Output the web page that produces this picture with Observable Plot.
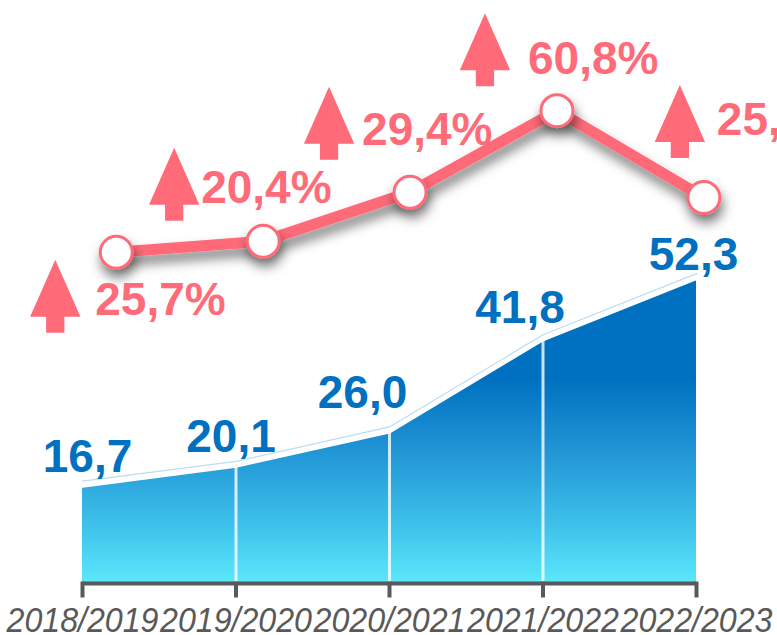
<!DOCTYPE html>
<html><head><meta charset="utf-8">
<script src="https://cdn.jsdelivr.net/npm/d3@7"></script>
<script src="https://cdn.jsdelivr.net/npm/@observablehq/plot@0.6"></script>
<style>
html,body{margin:0;padding:0;background:#fff;overflow:hidden;}
svg{display:block;}
</style></head><body><div id="chart"></div>
<script>
// ---- data ----
const seasons = ["2018/2019", "2019/2020", "2020/2021", "2021/2022", "2022/2023"];
const volumes = [16.7, 20.1, 26.0, 41.8, 52.3];
const growthPct = [25.7, 20.4, 29.4, 60.8, 25.3];
const lineLevel = [56.8, 58.7, 67.1, 81.1, 66.2];

// ---- layout / style config ----
const PINK = "#ff6b79";
const BLUE = "#0070c0";
const AXIS = "#595959";
const FONT = "'Liberation Sans', Arial, Helvetica, sans-serif";
const lineXShift = i => 0.22 + i * 0.957;
const pctOffsets = [[-21, 48], [-62, -53], [-48, -62], [-29, -51], [13, -77]];
const arrowOffsets = [[-40, -4], [-27, -4], [-33, -7], [-43, -10], [-37, 1]];
const valOffsets = [[5, -29], [-5, -29], [-27, -39], [-23, -32], [-3, -23]];

const fmt = v => v.toFixed(1).replace(".", ",");
const volData = volumes.map((v, i) => ({i, v, label: fmt(v)}));
const lineData = lineLevel.map((v, i) => ({x: lineXShift(i), v, label: fmt(growthPct[i]) + "%"}));
const idx = seasons.map((s, i) => i);

const arrowSymbol = {
  draw(ctx, size) {
    const r = Math.sqrt(size / Math.PI); // half height
    const h = 2 * r;
    const top = -r, baseY = -r + 0.78 * h, bottom = r;
    const hw = 0.345 * h, sw = 0.125 * h;
    ctx.moveTo(0, top);
    ctx.lineTo(hw, baseY);
    ctx.lineTo(sw, baseY);
    ctx.lineTo(sw, bottom);
    ctx.lineTo(-sw, bottom);
    ctx.lineTo(-sw, baseY);
    ctx.lineTo(-hw, baseY);
    ctx.closePath();
  }
};
const tickSymbol = {
  draw(ctx, size) {
    const r = Math.sqrt(size / Math.PI);
    ctx.moveTo(0, 0);
    ctx.lineTo(0, r);
  }
};

const marks = [
  Plot.areaY(volData, {x: "i", y: "v", fill: BLUE}),
  Plot.lineY(volData, {x: "i", y: "v", stroke: "white", strokeWidth: 3}),
  Plot.lineY(volData, {x: "i", y: "v", dy: -5, stroke: "#bcdcf2", strokeWidth: 1.2}),
  Plot.ruleX(volData.slice(1, 4), {x: "i", y1: 0, y2: "v", stroke: "white", strokeOpacity: 0.8, strokeWidth: 3}),
  Plot.ruleY([0], {x1: 0, x2: 4, stroke: AXIS, strokeWidth: 4}),
  Plot.dot(idx, {x: d => d, y: 0, r: 12, symbol: tickSymbol, stroke: AXIS, strokeWidth: 4, fill: "none", strokeLinecap: "square"}),
  Plot.text(idx, {x: d => d, y: 0, dy: 37, text: d => seasons[d], fontSize: 35, fontStyle: "italic", fill: AXIS}),
  Plot.line(lineData, {x: "x", y: "v", stroke: PINK, strokeWidth: 11}),
  Plot.dot(lineData, {x: "x", y: "v", r: 16, fill: "white", stroke: PINK, strokeWidth: 3})
];
volData.forEach((d, k) => {
  marks.push(Plot.text([d], {x: "i", y: "v", text: "label", dx: valOffsets[k][0], dy: valOffsets[k][1],
    fontSize: 46, fontWeight: "bold", fill: BLUE}));
});
lineData.forEach((d, k) => {
  const [dx, dy] = pctOffsets[k];
  const [ax, ay] = arrowOffsets[k];
  marks.push(Plot.dot([d], {x: "x", y: "v", dx: dx + ax, dy: dy + ay, r: 36.5, symbol: arrowSymbol, fill: PINK}));
  marks.push(Plot.text([d], {x: "x", y: "v", text: "label", dx, dy, textAnchor: "start",
    fontSize: 46, fontWeight: "bold", fill: PINK}));
});

const svg = Plot.plot({
  width: 777, height: 635,
  marginLeft: 82, marginRight: 81, marginTop: 0, marginBottom: 52,
  x: {type: "linear", domain: [0, 4], axis: null},
  y: {domain: [0, 100], axis: null},
  style: {fontFamily: FONT, background: "white", overflow: "hidden"},
  marks
});

const s = d3.select(svg);
const defs = s.insert("defs", ":first-child");
const g = defs.append("linearGradient").attr("id", "areaGrad").attr("x1", 0).attr("y1", 0).attr("x2", 0).attr("y2", 1);
[[0, "#0070c0"], [0.33, "#0070c0"], [0.55, "#1f92d4"], [0.8, "#3cbfe9"], [1, "#5ce8fb"]]
  .forEach(([o, c]) => g.append("stop").attr("offset", o).attr("stop-color", c));
const f = defs.append("filter").attr("id", "shadow").attr("x", "-20%").attr("y", "-50%").attr("width", "140%").attr("height", "200%");
f.append("feDropShadow").attr("dx", 2).attr("dy", 8).attr("stdDeviation", 6).attr("flood-color", "#000").attr("flood-opacity", 0.5);

s.selectAll('g[aria-label="area"]').attr("fill", "url(#areaGrad)");
s.selectAll('g[aria-label="line"]').filter(function() { return (this.getAttribute("stroke") || "").toLowerCase() === PINK; })
  .attr("filter", "url(#shadow)");
s.selectAll('g[aria-label="dot"]').filter(function() { return (this.getAttribute("stroke") || "").toLowerCase() === PINK && this.getAttribute("fill") === "white"; })
  .attr("filter", "url(#shadow)");
s.selectAll('g[aria-label="text"]').filter(function() { return (this.getAttribute("fill") || "").toLowerCase() === AXIS; })
  .selectAll("text").attr("textLength", 152).attr("lengthAdjust", "spacingAndGlyphs");

document.getElementById("chart").appendChild(svg);
</script>
</body></html>
